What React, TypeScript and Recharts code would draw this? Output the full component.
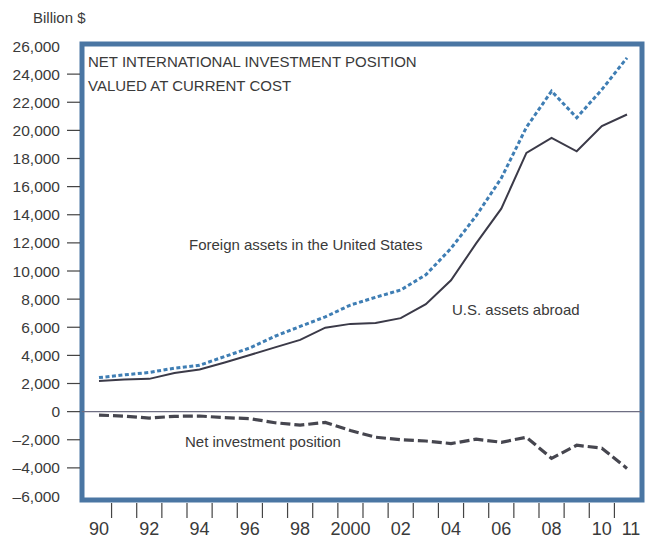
import { LineChart, Line, XAxis, YAxis, ReferenceLine, ReferenceArea } from "recharts";

// Values, billions of dollars
const years = [1990, 1991, 1992, 1993, 1994, 1995, 1996, 1997, 1998, 1999, 2000, 2001, 2002, 2003, 2004, 2005, 2006, 2007, 2008, 2009, 2010, 2011];
const foreignAssetsInUS = [2420, 2610, 2790, 3090, 3300, 3920, 4530, 5360, 6060, 6740, 7580, 8130, 8650, 9730, 11610, 13920, 16600, 20220, 22790, 20900, 22900, 25160];
const usAssetsAbroad = [2180, 2290, 2330, 2750, 2990, 3490, 4030, 4570, 5100, 5970, 6240, 6310, 6650, 7640, 9340, 11960, 14430, 18400, 19470, 18510, 20300, 21130];
const netPosition = [-245, -320, -455, -335, -310, -430, -495, -790, -960, -765, -1340, -1820, -2000, -2090, -2270, -1960, -2180, -1820, -3320, -2390, -2600, -4040];

const yTicks = [-6000, -4000, -2000, 0, 2000, 4000, 6000, 8000, 10000, 12000, 14000, 16000, 18000, 20000, 22000, 24000, 26000];
const xLabelYears = [1990, 1992, 1994, 1996, 1998, 2000, 2002, 2004, 2006, 2008, 2010, 2011];
const xLabels = ["90", "92", "94", "96", "98", "2000", "02", "04", "06", "08", "10", "11"];
// tick marks sit between years
const xTickMarks = years.slice(0, -1).map((y) => y + 0.5);

const data = years.map((year, i) => ({
    year,
    foreign: foreignAssetsInUS[i],
    abroad: usAssetsAbroad[i],
    net: netPosition[i],
}));

const X_DOMAIN = [1989.324, 2011.597];
const Y_DOMAIN = [-6284, 26142];
const TEXT = "#3a3a3a";
const FONT = "'Liberation Sans', Arial, sans-serif";

const fmt = (v: number) => (v < 0 ? "\u2013" : "") + Math.abs(v).toLocaleString("en-US");

function YTick({ x, y, payload }: any) {
    const v = payload.value;
    const edge = v === yTicks[0] || v === yTicks[yTicks.length - 1];
    return (
        <g>
            {!edge && <line x1={x - 15} x2={x - 2} y1={y} y2={y} stroke="#444" strokeWidth={1.2} />}
            <text x={x - 22} y={y} dy="0.36em" textAnchor="end" fontSize={15.5} fill={TEXT} fontFamily={FONT}>
                {fmt(v)}
            </text>
        </g>
    );
}

function XTick({ x, y, payload }: any) {
    const v = payload.value;
    const idx = xLabelYears.indexOf(v);
    if (idx >= 0) {
        return (
            <text x={x + (v === 2011 ? 4 : 0)} y={y + 35} textAnchor="middle" fontSize={18} fill={TEXT} fontFamily={FONT}>
                {xLabels[idx]}
            </text>
        );
    }
    return <line x1={x} x2={x} y1={y + 3} y2={y + 18} stroke="#444" strokeWidth={1.2} />;
}

function Annotations({ viewBox }: any) {
    const { x, y } = viewBox;
    const t = { fontSize: 15, fill: TEXT, fontFamily: FONT };
    return (
        <g>
            <text x={x - 49} y={y - 21} {...t}>Billion $</text>
            <text x={x + 6} y={y + 23} {...t}>NET INTERNATIONAL INVESTMENT POSITION</text>
            <text x={x + 6} y={y + 47} {...t}>VALUED AT CURRENT COST</text>
            <text x={x + 107} y={y + 206} {...t}>Foreign assets in the United States</text>
            <text x={x + 370} y={y + 271} {...t}>U.S. assets abroad</text>
            <text x={x + 103} y={y + 403} {...t}>Net investment position</text>
        </g>
    );
}

export default function App() {
    return (
        <div style={{ position: "absolute", left: 0, top: 0, background: "#fff" }}>
            <LineChart width={647} height={538} data={data} margin={{ top: 44, right: 5, bottom: 0, left: 0 }}>
                <XAxis
                    dataKey="year"
                    type="number"
                    domain={X_DOMAIN}
                    allowDataOverflow
                    ticks={[...xLabelYears, ...xTickMarks]}
                    interval={0}
                    tick={<XTick />}
                    tickSize={0}
                    tickMargin={0}
                    axisLine={false}
                    height={38}
                />
                <YAxis
                    type="number"
                    domain={Y_DOMAIN}
                    allowDataOverflow
                    ticks={yTicks}
                    interval={0}
                    tick={<YTick />}
                    tickSize={0}
                    tickMargin={0}
                    axisLine={false}
                    width={82}
                />
                <ReferenceLine y={0} stroke="#6e6e82" strokeWidth={1.3} />
                <Line dataKey="abroad" stroke="#3b3a48" strokeWidth={2} dot={false} isAnimationActive={false} />
                <Line dataKey="foreign" stroke="#3f7eb4" strokeWidth={3} strokeDasharray="4 2.5" dot={false} isAnimationActive={false} />
                <Line dataKey="net" stroke="#46464f" strokeWidth={3.2} strokeDasharray="10 4" dot={false} isAnimationActive={false} />
                <ReferenceArea
                    x1={X_DOMAIN[0]}
                    x2={X_DOMAIN[1]}
                    y1={Y_DOMAIN[0]}
                    y2={Y_DOMAIN[1]}
                    fill="none"
                    stroke="#4a76a3"
                    strokeWidth={5}
                    ifOverflow="visible"
                    label={(props: any) => <Annotations {...props} />}
                />
            </LineChart>
        </div>
    );
}
